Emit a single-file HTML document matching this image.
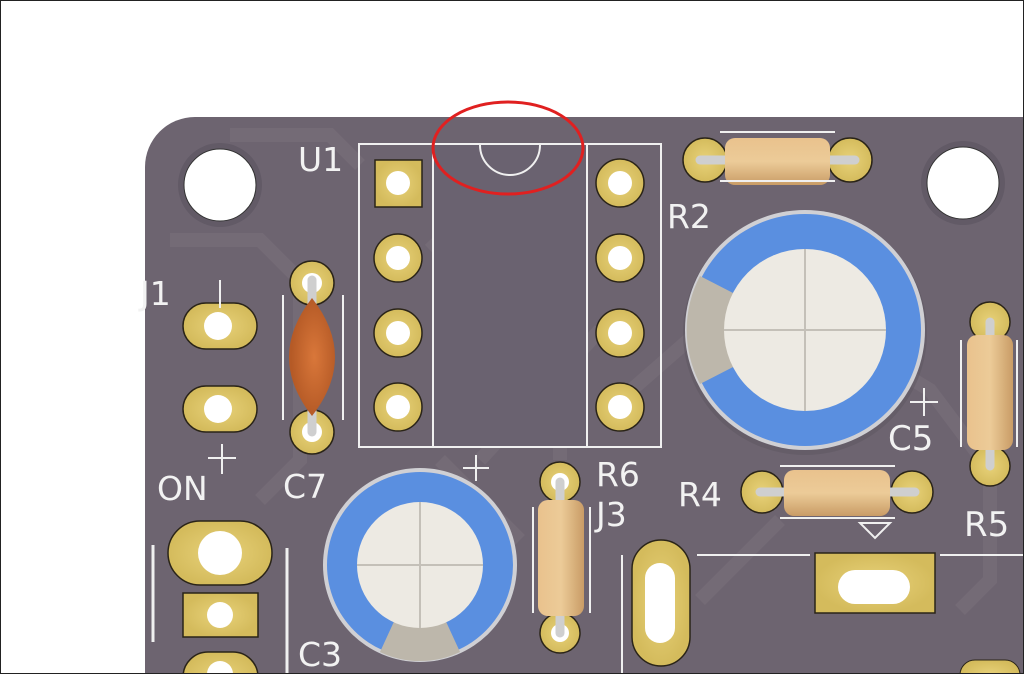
<!DOCTYPE html>
<html><head><meta charset="utf-8"><style>
html,body{margin:0;padding:0;background:#fff}
svg{display:block}
text{font-family:"DejaVu Sans","Liberation Sans",sans-serif;fill:#f2f2f2}
</style></head><body>
<svg width="1024" height="674" viewBox="0 0 1024 674" xmlns="http://www.w3.org/2000/svg">
<defs>
<radialGradient id="pad" cx="50%" cy="50%" r="50%"><stop offset="0" stop-color="#e8d27a"/><stop offset="1" stop-color="#d4bb5c"/></radialGradient>
<linearGradient id="res" x1="0" y1="0" x2="0" y2="1"><stop offset="0" stop-color="#e9c28d"/><stop offset="0.5" stop-color="#eccb98"/><stop offset="1" stop-color="#c99c66"/></linearGradient>
<linearGradient id="resv" x1="0" y1="0" x2="1" y2="0"><stop offset="0" stop-color="#e9c28d"/><stop offset="0.5" stop-color="#eccb98"/><stop offset="1" stop-color="#c99c66"/></linearGradient>
<radialGradient id="cer" cx="55%" cy="50%" r="50%"><stop offset="0" stop-color="#d9773a"/><stop offset="1" stop-color="#b55a26"/></radialGradient>
</defs>
<rect x="0" y="0" width="1024" height="674" fill="#fff"/>
<path d="M145 674 V167 A50 50 0 0 1 195 117 H1024 V674 Z" fill="#6d6470"/>
<g stroke="#746b76" stroke-width="14" fill="none">
<path d="M230 135 L330 135 L360 165"/>
<path d="M170 240 L260 240 L300 280 L300 460 L260 500"/>
<path d="M430 240 L560 380 L560 460"/>
<path d="M600 330 L480 460"/>
<path d="M620 400 L700 330 L760 240"/>
<path d="M830 330 L930 390 L990 470 L990 580 L960 610"/>
<path d="M440 460 L520 540"/>
<path d="M700 600 L780 520"/>
</g>
<circle cx="220" cy="185" r="42" fill="#625a66"/>
<circle cx="220" cy="185" r="36" fill="#fff" stroke="#333" stroke-width="1"/>
<circle cx="963" cy="183" r="42" fill="#625a66"/>
<circle cx="963" cy="183" r="36" fill="#fff" stroke="#333" stroke-width="1"/>
<rect x="432" y="144" width="155" height="303" fill="#6a6270"/>
<g stroke="#f0f0f0" stroke-width="2" fill="none">
<rect x="359" y="144" width="302" height="303"/>
<line x1="433" y1="144" x2="433" y2="447"/>
<line x1="587" y1="144" x2="587" y2="447"/>
<path d="M480 145 A30 30 0 0 0 540 145"/>
</g>
<g stroke="#2a2418" stroke-width="1.5" fill="url(#pad)">
<rect x="375" y="160" width="47" height="47"/>
<circle cx="398" cy="258" r="24"/><circle cx="398" cy="333" r="24"/><circle cx="398" cy="407" r="24"/>
<circle cx="620" cy="183" r="24"/><circle cx="620" cy="258" r="24"/><circle cx="620" cy="333" r="24"/><circle cx="620" cy="407" r="24"/>
</g>
<g fill="#fff">
<circle cx="398" cy="183" r="12"/><circle cx="398" cy="258" r="12"/><circle cx="398" cy="333" r="12"/><circle cx="398" cy="407" r="12"/>
<circle cx="620" cy="183" r="12"/><circle cx="620" cy="258" r="12"/><circle cx="620" cy="333" r="12"/><circle cx="620" cy="407" r="12"/>
</g>
<ellipse cx="508" cy="148" rx="75" ry="46" fill="none" stroke="#e02020" stroke-width="3"/>
<text x="298" y="171" font-size="33">U1</text>
<g stroke="#2a2418" stroke-width="1.5" fill="url(#pad)">
<rect x="183" y="303" width="74" height="46" rx="23"/>
<rect x="183" y="386" width="74" height="46" rx="23"/>
</g>
<circle cx="218" cy="326" r="14" fill="#fff"/><circle cx="218" cy="409" r="14" fill="#fff"/>
<text x="140" y="305" font-size="33">J1</text>
<line x1="220" y1="280" x2="220" y2="308" stroke="#f0f0f0" stroke-width="2"/>
<path d="M208 458 H236 M222 444 V474" stroke="#f0f0f0" stroke-width="2"/>
<text x="157" y="500" font-size="33">ON</text>
<g stroke="#2a2418" stroke-width="1.5" fill="url(#pad)">
<circle cx="312" cy="283" r="22"/><circle cx="312" cy="432" r="22"/>
</g>
<circle cx="312" cy="283" r="10" fill="#fff"/><circle cx="312" cy="432" r="10" fill="#fff"/>
<line x1="312" y1="280" x2="312" y2="432" stroke="#cfcfcf" stroke-width="9" stroke-linecap="round"/>
<path d="M312 298 Q358 357 312 416 Q266 357 312 298 Z" fill="url(#cer)"/>
<line x1="283" y1="295" x2="283" y2="420" stroke="#f0f0f0" stroke-width="2"/>
<line x1="343" y1="295" x2="343" y2="420" stroke="#f0f0f0" stroke-width="2"/>
<text x="283" y="498" font-size="33">C7</text>
<circle cx="420" cy="565" r="97" fill="#d0d0d4"/>
<circle cx="420" cy="565" r="93" fill="#5a8fe0"/>
<path d="M420 565 L380 652 A93 93 0 0 0 460 652 Z" fill="#bdb7ab"/>
<circle cx="420" cy="565" r="63" fill="#edeae3"/>
<path d="M357 565 H483 M420 502 V628" stroke="#c4c0b8" stroke-width="2"/>
<path d="M463 468 H489 M476 455 V481" stroke="#f0f0f0" stroke-width="2"/>
<text x="298" y="666" font-size="33">C3</text>
<g stroke="#2a2418" stroke-width="1.5" fill="url(#pad)">
<circle cx="560" cy="482" r="20"/><circle cx="560" cy="633" r="20"/>
</g>
<circle cx="560" cy="482" r="9" fill="#fff"/><circle cx="560" cy="633" r="9" fill="#fff"/>
<line x1="560" y1="482" x2="560" y2="633" stroke="#cfcfcf" stroke-width="9" stroke-linecap="round"/>
<rect x="538" y="500" width="46" height="116" rx="10" fill="url(#resv)"/>
<line x1="533" y1="507" x2="533" y2="613" stroke="#f0f0f0" stroke-width="2"/>
<line x1="590" y1="507" x2="590" y2="613" stroke="#f0f0f0" stroke-width="2"/>
<text x="596" y="486" font-size="33">R6</text>
<text x="596" y="526" font-size="33">J3</text>
<path d="M622 555 V674" stroke="#f0f0f0" stroke-width="2"/>
<path d="M697 555 H810 M940 555 H1024" stroke="#f0f0f0" stroke-width="2"/>
<rect x="632" y="540" width="58" height="126" rx="29" fill="url(#pad)" stroke="#2a2418" stroke-width="1.5"/>
<rect x="645" y="563" width="30" height="80" rx="15" fill="#fff"/>
<rect x="815" y="553" width="120" height="60" fill="url(#pad)" stroke="#2a2418" stroke-width="1.5"/>
<rect x="838" y="570" width="72" height="34" rx="17" fill="#fff"/>
<path d="M860 523 H890 L875 538 Z" fill="none" stroke="#f0f0f0" stroke-width="2"/>
<rect x="960" y="660" width="60" height="30" rx="15" fill="url(#pad)" stroke="#2a2418"/>
<line x1="153" y1="545" x2="153" y2="642" stroke="#f0f0f0" stroke-width="3"/>
<line x1="287" y1="548" x2="287" y2="674" stroke="#f0f0f0" stroke-width="3"/>
<rect x="168" y="521" width="104" height="64" rx="32" fill="url(#pad)" stroke="#2a2418" stroke-width="1.5"/>
<circle cx="220" cy="553" r="22" fill="#fff"/>
<rect x="183" y="593" width="75" height="44" fill="url(#pad)" stroke="#2a2418" stroke-width="1.5"/>
<circle cx="220" cy="615" r="13" fill="#fff"/>
<rect x="183" y="652" width="75" height="50" rx="25" fill="url(#pad)" stroke="#2a2418" stroke-width="1.5"/>
<circle cx="220" cy="674" r="13" fill="#fff"/>
<g stroke="#2a2418" stroke-width="1.5" fill="url(#pad)">
<circle cx="705" cy="160" r="22"/><circle cx="850" cy="160" r="22"/>
</g>
<line x1="700" y1="160" x2="855" y2="160" stroke="#cfcfcf" stroke-width="9" stroke-linecap="round"/>
<rect x="725" y="138" width="105" height="47" rx="10" fill="url(#res)"/>
<line x1="720" y1="132" x2="835" y2="132" stroke="#f0f0f0" stroke-width="2"/>
<line x1="720" y1="181" x2="835" y2="181" stroke="#f0f0f0" stroke-width="2"/>
<text x="667" y="228" font-size="33">R2</text>
<circle cx="805" cy="333" r="122" fill="#55505a" opacity="0.35"/>
<circle cx="805" cy="330" r="120" fill="#d0d0d4"/>
<circle cx="805" cy="330" r="116" fill="#5a8fe0"/>
<path d="M805 330 L700 276 A116 116 0 0 0 700 384 Z" fill="#bdb7ab"/>
<circle cx="805" cy="330" r="81" fill="#edeae3"/>
<path d="M724 330 H886 M805 249 V411" stroke="#c4c0b8" stroke-width="2"/>
<path d="M910 402 H938 M924 388 V416" stroke="#f0f0f0" stroke-width="2"/>
<text x="888" y="450" font-size="34">C5</text>
<g stroke="#2a2418" stroke-width="1.5" fill="url(#pad)">
<circle cx="990" cy="322" r="20"/><circle cx="990" cy="466" r="20"/>
</g>
<line x1="990" y1="322" x2="990" y2="466" stroke="#cfcfcf" stroke-width="9" stroke-linecap="round"/>
<rect x="967" y="335" width="46" height="115" rx="10" fill="url(#resv)"/>
<line x1="961" y1="340" x2="961" y2="447" stroke="#f0f0f0" stroke-width="2"/>
<line x1="1017" y1="340" x2="1017" y2="447" stroke="#f0f0f0" stroke-width="2"/>
<text x="964" y="536" font-size="34">R5</text>
<g stroke="#2a2418" stroke-width="1.5" fill="url(#pad)">
<circle cx="762" cy="492" r="21"/><circle cx="912" cy="492" r="21"/>
</g>
<line x1="760" y1="492" x2="915" y2="492" stroke="#cfcfcf" stroke-width="9" stroke-linecap="round"/>
<rect x="784" y="470" width="106" height="46" rx="10" fill="url(#res)"/>
<line x1="780" y1="466" x2="895" y2="466" stroke="#f0f0f0" stroke-width="2"/>
<line x1="780" y1="518" x2="895" y2="518" stroke="#f0f0f0" stroke-width="2"/>
<text x="678" y="506" font-size="33">R4</text>
<rect x="0.5" y="0.5" width="1023" height="673" fill="none" stroke="#222" stroke-width="1"/>
</svg>
</body></html>
